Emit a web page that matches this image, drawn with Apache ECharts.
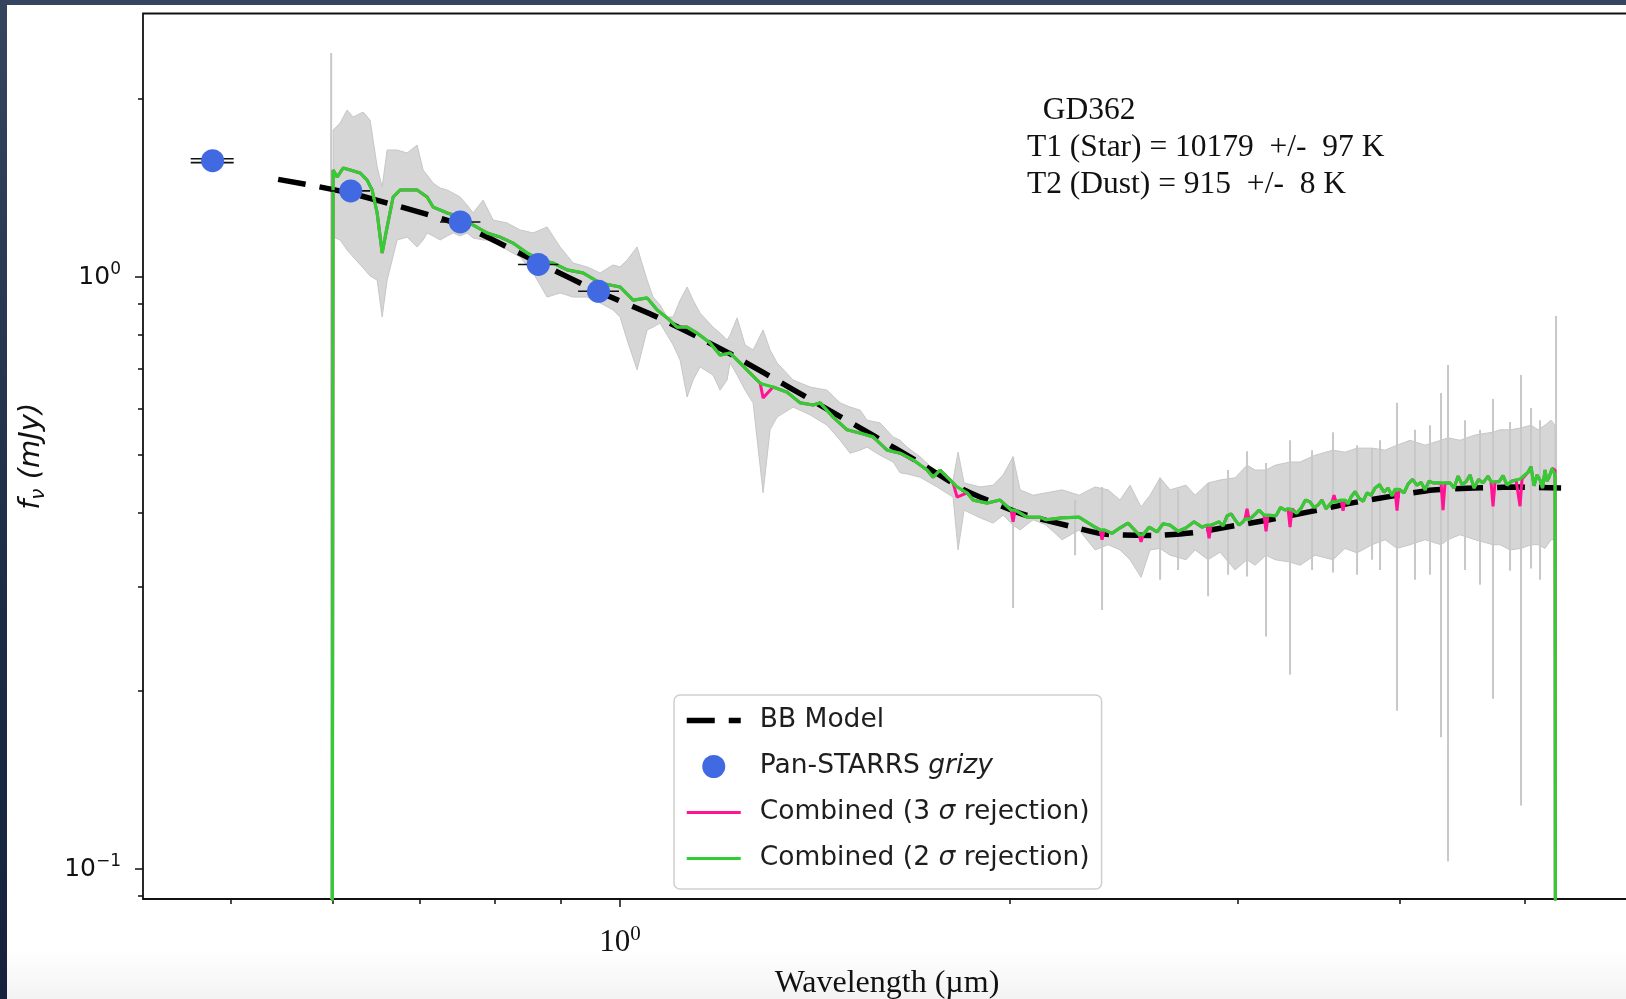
<!DOCTYPE html>
<html>
<head>
<meta charset="utf-8">
<title>GD362 spectral energy distribution</title>
<script src="https://cdn.jsdelivr.net/npm/echarts@6.0.0/dist/echarts.min.js"></script>
<style>
  html, body {
    margin: 0; padding: 0; width: 1626px; height: 999px; overflow: hidden;
    background: linear-gradient(to bottom, #35455f 0%, #1d2c46 60%, #14223b 100%);
  }
  #panel {
    position: absolute; left: 7px; top: 5px; right: 0; bottom: 0;
    background: linear-gradient(to bottom, #ffffff 0%, #ffffff 95%, #f3f3f3 100%);
  }
  #chart { position: absolute; left: 0; top: 0; width: 1700px; height: 999px; }
</style>
</head>
<body>
<div id="panel"></div>
<div id="chart"></div>
<script>
// ---- axis limits (µm, mJy) ----
const X_MIN = 0.4281, X_MAX = 6.035;
const Y_MIN = 0.089, Y_MAX = 2.787;

// ---- tick positions ----
const xMajorTicks = [1];
const xMinorTicks = [0.5, 0.6, 0.7, 0.8, 0.9, 2, 3, 4, 5, 6];
const yMajorTicks = [0.1, 1];
const yMinorTicks = [0.09, 0.2, 0.3, 0.4, 0.5, 0.6, 0.7, 0.8, 0.9, 2];

// ---- Pan-STARRS grizy photometry ----
const psWave   = [0.4845, 0.6194, 0.7526, 0.8646, 0.9623];
const psFlux   = [1.572, 1.398, 1.239, 1.050, 0.946];
const psWaveLo = [0.466, 0.598, 0.726, 0.834, 0.928];
const psWaveHi = [0.503, 0.641, 0.780, 0.896, 0.998];

// ---- two-component blackbody model (star + dust) ----
const bbWave = [0.5444,0.6188,0.7524,0.8643,0.9616,1.0604,1.1467,1.2161,1.2897,1.3697,
                1.4530,1.5683,1.7050,1.8441,2.0399,2.2301,2.3647,2.5796,2.7755,2.9430,
                3.1651,3.4111,3.6685,3.9456,4.2443,4.5652,4.9183,5.3296];
const bbFlux = [1.462,1.386,1.225,1.058,0.945,0.862,0.793,0.742,0.690,0.640,
                0.594,0.540,0.485,0.437,0.3985,0.379,0.368,0.366,0.370,0.3782,
                0.3887,0.4015,0.415,0.4265,0.4366,0.440,0.4417,0.440];

// ---- combined spectrum (shared wavelength grid) ----
const specWave = [
  0.5982,0.6003,0.6046,0.6111,0.6188,0.6298,0.6377,0.6434,0.6492,0.6550,
  0.6608,0.6679,0.6763,0.6970,0.7095,0.7171,0.7352,0.7524,0.7700,0.7894,
  0.8079,0.8268,0.8476,0.8674,0.8877,0.9101,0.9363,0.9651,1.0000,1.0234,
  1.0492,1.0680,1.0872,1.1067,1.1265,1.1467,1.1735,1.1946,1.2160,1.2378,
  1.2601,1.2827,1.2895,1.3126,1.3457,1.3772,1.4094,1.4271,1.4604,1.4972,
  1.5322,1.5681,1.6076,1.6452,1.6836,1.7261,1.7446,1.7664,1.8077,1.8206,
  1.8533,1.8732,1.9204,1.9653,2.0042,2.0113,2.0185,2.0620,2.1102,2.1328,
  2.1944,2.2617,2.3270,2.3477,2.3561,2.3645,2.3984,2.4328,2.4676,2.5164,
  2.5253,2.5343,2.5615,2.5982,2.6261,2.6590,2.6971,2.7357,2.7749,2.8147,
  2.8398,2.8499,2.8600,
  2.9010,2.922,2.9426,2.964,2.9847,3.006,3.0275,3.0382,3.0490,3.0598,
  3.0763,3.095,3.1148,3.1426,3.1538,3.1650,3.2104,3.236,3.2621,3.2796,
  3.2913,3.3030,3.330,3.3563,3.383,3.4104,3.435,3.4593,3.484,3.5088,
  3.5465,3.5591,3.5717,3.6037,3.6165,3.6294,3.649,3.6683,3.695,3.7211,
  3.748,3.7742,3.801,3.8285,3.859,3.8900,3.918,3.9459,3.9669,3.9810,
  3.9952,4.0023,4.031,4.0596,4.092,4.1251,4.155,4.1842,4.214,4.2442,
  4.3050,4.3203,4.3357,4.3744,4.406,4.4372,4.469,4.5007,4.533,4.5652,
  4.602,4.6388,4.6807,4.7052,4.7220,4.7388,4.7727,4.807,4.8410,4.880,
  4.9192,4.9367,4.9543,4.9719,5.0253,5.052,5.0792,5.106,5.1337,5.157,
  5.1796,5.198,5.2165,5.245,5.2725,5.2819];

// 2-sigma clipped combination
const flux2sig = [
  0.001,1.516,1.475,1.528,1.516,1.499,1.458,1.403,1.283,1.098,
  1.215,1.365,1.403,1.403,1.365,1.313,1.283,1.263,1.224,1.187,
  1.168,1.141,1.098,1.068,1.056,1.028,1.016,0.977,0.962,0.914,
  0.922,0.880,0.853,0.823,0.823,0.804,0.774,0.738,0.744,0.716,
  0.688,0.662,0.659,0.652,0.639,0.613,0.608,0.613,0.580,0.552,
  0.545,0.537,0.510,0.504,0.491,0.472,0.459,0.472,0.449,0.442,
  0.432,0.420,0.415,0.420,0.404,0.404,0.404,0.393,0.393,0.389,
  0.392,0.393,0.378,0.374,0.374,0.374,0.369,0.377,0.384,0.367,
  0.367,0.367,0.378,0.371,0.383,0.381,0.372,0.377,0.386,0.378,
  0.381,0.381,0.381,
  0.386,0.380,0.395,0.398,0.389,0.381,0.386,0.390,0.390,0.390,
  0.393,0.398,0.404,0.396,0.396,0.396,0.395,0.408,0.404,0.406,
  0.406,0.406,0.399,0.407,0.420,0.417,0.408,0.412,0.420,0.406,
  0.417,0.417,0.417,0.420,0.420,0.420,0.414,0.425,0.434,0.423,
  0.418,0.432,0.428,0.440,0.446,0.433,0.440,0.427,0.438,0.438,
  0.438,0.440,0.432,0.447,0.455,0.445,0.450,0.437,0.452,0.449,
  0.449,0.449,0.449,0.449,0.440,0.461,0.446,0.451,0.463,0.440,
  0.455,0.449,0.461,0.451,0.451,0.451,0.451,0.462,0.445,0.452,
  0.454,0.456,0.456,0.456,0.468,0.478,0.444,0.463,0.454,0.440,
  0.472,0.452,0.459,0.475,0.463,0.001];

// 3-sigma clipped combination
const flux3sig = [
  0.001,1.516,1.475,1.528,1.516,1.499,1.458,1.403,1.283,1.098,
  1.215,1.365,1.403,1.403,1.365,1.313,1.283,1.263,1.224,1.187,
  1.168,1.141,1.098,1.068,1.056,1.028,1.016,0.977,0.962,0.914,
  0.922,0.880,0.853,0.823,0.823,0.804,0.774,0.738,0.744,0.716,
  0.688,0.662,0.625,0.652,0.639,0.613,0.608,0.613,0.580,0.552,
  0.545,0.537,0.510,0.504,0.491,0.472,0.459,0.472,0.449,0.425,
  0.432,0.420,0.415,0.420,0.404,0.386,0.404,0.393,0.393,0.389,
  0.392,0.393,0.378,0.374,0.360,0.374,0.369,0.377,0.384,0.367,
  0.357,0.367,0.378,0.371,0.383,0.381,0.372,0.377,0.386,0.378,
  0.381,0.362,0.381,
  0.386,0.380,0.395,0.398,0.389,0.381,0.386,0.390,0.406,0.390,
  0.393,0.398,0.404,0.396,0.372,0.396,0.395,0.408,0.404,0.406,
  0.378,0.406,0.399,0.407,0.420,0.417,0.408,0.412,0.420,0.406,
  0.417,0.428,0.417,0.420,0.403,0.420,0.414,0.425,0.434,0.423,
  0.418,0.432,0.428,0.440,0.446,0.433,0.440,0.427,0.438,0.403,
  0.438,0.440,0.432,0.447,0.455,0.445,0.450,0.437,0.452,0.449,
  0.449,0.404,0.449,0.449,0.440,0.461,0.446,0.451,0.463,0.440,
  0.455,0.449,0.461,0.451,0.410,0.451,0.451,0.462,0.445,0.452,
  0.454,0.456,0.410,0.456,0.468,0.478,0.444,0.463,0.454,0.440,
  0.472,0.452,0.459,0.475,0.472,0.001];

// ---- 1-sigma uncertainty envelope ----
const bandWave = [
  0.6003,0.6078,0.6154,0.6221,0.6332,0.6411,0.6492,0.6550,0.6608,0.6727,
  0.6847,0.6970,0.7045,0.7095,0.7171,0.7261,0.7352,0.7431,0.7524,0.7618,
  0.7700,0.7838,0.7979,0.8180,0.8371,0.8567,0.8783,0.8988,0.9198,0.9430,
  0.9651,0.9876,1.0000,1.0125,1.0307,1.0492,1.0604,1.0737,1.0872,1.0988,
  1.1126,1.1265,1.1386,1.1529,1.1798,1.1946,1.2095,1.2160,1.2313,1.2489,
  1.2668,1.2895,1.3056,1.3220,1.3602,1.4019,1.4449,1.4787,1.5052,1.5322,
  1.5514,1.5877,1.6249,1.6452,1.6658,1.7048,1.7570,1.7981,1.8077,1.8239,
  1.8435,1.8966,1.9412,1.9759,2.0113,2.0366,2.0842,2.1328,2.1944,2.2617,
  2.3270,2.3814,2.4328,2.4764,2.5253,2.5660,2.6122,2.6590,2.7357,2.7798,
  2.8448,2.9061,2.9847,3.0490,3.0928,3.1538,3.2047,3.2913,3.3503,3.4409,
  3.5528,3.6294,3.7078,3.8081,3.8970,3.9810,4.0741,4.1842,4.3050,4.3589,
  4.4530,4.5733,4.7220,4.7812,4.8670,4.9631,5.0522,5.1155,5.1796,5.2351,
  5.2725];
const bandHi = [
  1.771,1.820,1.915,1.863,1.900,1.841,1.534,1.419,1.639,1.639,
  1.620,1.671,1.516,1.487,1.441,1.414,1.403,1.386,1.365,1.323,
  1.283,1.349,1.248,1.234,1.201,1.187,1.215,1.124,1.056,1.040,
  1.016,1.048,1.040,1.068,1.124,0.988,0.925,0.897,0.856,0.856,
  0.914,0.962,0.914,0.869,0.823,0.804,0.783,0.798,0.853,0.768,
  0.753,0.814,0.753,0.716,0.670,0.652,0.644,0.613,0.603,0.596,
  0.573,0.567,0.537,0.530,0.516,0.497,0.467,0.449,0.454,0.506,
  0.449,0.442,0.445,0.463,0.497,0.437,0.428,0.432,0.437,0.428,
  0.442,0.437,0.420,0.445,0.409,0.428,0.458,0.437,0.445,0.428,
  0.449,0.454,0.458,0.481,0.472,0.472,0.481,0.487,0.487,0.500,
  0.510,0.506,0.514,0.514,0.510,0.520,0.530,0.520,0.530,0.535,
  0.530,0.541,0.547,0.552,0.552,0.556,0.562,0.552,0.562,0.573,
  0.562];
const bandLo = [
  1.168,1.155,1.111,1.081,1.036,1.004,0.988,0.856,0.988,1.155,
  1.168,1.124,1.155,1.187,1.173,1.155,1.173,1.187,1.173,1.187,
  1.164,1.155,1.155,1.111,1.081,1.016,0.925,0.940,0.925,0.925,
  0.904,0.880,0.856,0.783,0.697,0.814,0.823,0.836,0.798,0.768,
  0.724,0.627,0.670,0.705,0.683,0.644,0.670,0.716,0.683,0.644,
  0.613,0.432,0.552,0.580,0.603,0.585,0.562,0.530,0.504,0.510,
  0.516,0.500,0.487,0.467,0.465,0.459,0.442,0.428,0.425,0.346,
  0.404,0.392,0.384,0.396,0.381,0.374,0.389,0.381,0.360,0.374,
  0.346,0.353,0.346,0.333,0.311,0.346,0.348,0.339,0.333,0.346,
  0.333,0.343,0.320,0.333,0.326,0.339,0.333,0.330,0.326,0.339,
  0.333,0.348,0.342,0.353,0.360,0.348,0.353,0.360,0.353,0.360,
  0.367,0.360,0.353,0.353,0.346,0.348,0.353,0.353,0.348,0.360,
  0.360];

// single noisy pixels with very large uncertainty
const spikeWave = [0.5982,2.0113,2.2457,2.3561,2.6122,2.6971,2.8448,2.9478,3.0490,3.1538,
                   3.2913,3.4226,3.5528,3.7078,3.8081,3.8625,3.9810,4.1105,4.2216,4.3050,
                   4.3589,4.4927,4.6141,4.7220,4.8670,4.9631,5.0522,5.1337,5.2819];
const spikeLo = [0.001,0.276,0.339,0.274,0.308,0.320,0.289,0.314,0.312,0.247,
                 0.213,0.320,0.317,0.314,0.333,0.320,0.185,0.308,0.314,0.167,
                 0.103,0.320,0.302,0.194,0.319,0.128,0.322,0.308,0.001];
const spikeHi = [2.390,0.497,0.420,0.442,0.458,0.437,0.449,0.472,0.508,0.485,
                 0.530,0.510,0.547,0.520,0.514,0.530,0.613,0.552,0.562,0.637,
                 0.710,0.573,0.552,0.622,0.569,0.683,0.601,0.573,0.859];

// ---- labels ----
const seriesNames = ['BB Model', 'Pan-STARRS grizy', 'Combined (3 σ rejection)', 'Combined (2 σ rejection)'];
const fitNotes = ['  GD362', 'T1 (Star) = 10179  +/-  97 K', 'T2 (Dust) = 915  +/-  8 K'];
const xTitle = 'Wavelength (µm)';

// ---------------------------------------------------------------------------
const chart = echarts.init(document.getElementById('chart'), null, { renderer: 'canvas' });

function powLabel(v) {
  const e = Math.round(Math.log10(v));
  return '{b|10}{s|' + (e < 0 ? '\u2212' + (-e) : String(e)) + '}';
}

function renderBand(params, api) {
  if (params.dataIndex !== 0) return null;
  const upper = bandWave.map((w, i) => api.coord([w, bandHi[i]]));
  const lower = bandWave.map((w, i) => api.coord([w, bandLo[i]])).reverse();
  return {
    type: 'polygon',
    shape: { points: upper.concat(lower) },
    style: { fill: '#d6d6d6', stroke: '#c6c6c6', lineWidth: 1 }
  };
}

function renderSpike(params, api) {
  const p0 = api.coord([api.value(0), api.value(1)]);
  const p1 = api.coord([api.value(0), api.value(2)]);
  return {
    type: 'line',
    shape: { x1: p0[0], y1: p0[1], x2: p1[0], y2: p1[1] },
    style: { stroke: '#c8c8c8', lineWidth: 2 }
  };
}

function renderErrBar(params, api) {
  const y = api.value(2);
  const p0 = api.coord([api.value(0), y]);
  const p1 = api.coord([api.value(1), y]);
  const offsets = params.dataIndex === 0 ? [-1.9, 1.9] : [0];
  return {
    type: 'group',
    children: offsets.map(o => ({
      type: 'line',
      shape: { x1: p0[0], y1: p0[1] + o, x2: p1[0], y2: p1[1] + o },
      style: { stroke: '#111', lineWidth: 1.6 }
    }))
  };
}

const tickLine = { color: '#111', width: 1.5 };
const hiddenMarker = { color: 'rgba(0,0,0,0)', borderColor: 'rgba(0,0,0,0)', borderWidth: 0 };
const legendText = {
  'BB Model': '{sp| }{t|BB Model}',
  'Pan-STARRS grizy': '{sp| }{t|Pan-STARRS }{it|grizy}',
  'Combined (3 σ rejection)': '{sp| }{t|Combined (3 }{it|σ}{t| rejection)}',
  'Combined (2 σ rejection)': '{sp| }{t|Combined (2 }{it|σ}{t| rejection)}'
};

const option = {
  animation: false,
  grid: {
    left: 143, top: 13.5, right: 69, bottom: 100,
    outerBoundsMode: 'none', containLabel: false,
    show: true, borderColor: '#111', borderWidth: 1.8, backgroundColor: 'transparent'
  },
  xAxis: [
    {
      type: 'log', logBase: 10, min: X_MIN, max: X_MAX, position: 'bottom',
      axisLine: { show: false }, splitLine: { show: false },
      axisTick: { show: true, customValues: xMajorTicks, length: 8, lineStyle: tickLine },
      axisLabel: {
        show: true, customValues: xMajorTicks, margin: 25, formatter: powLabel,
        rich: {
          b: { fontFamily: 'Liberation Serif', fontSize: 31, color: '#111', lineHeight: 38 },
          s: { fontFamily: 'Liberation Serif', fontSize: 21, color: '#111', lineHeight: 22, verticalAlign: 'top' }
        }
      },
      name: xTitle, nameLocation: 'middle', nameGap: 69,
      nameTextStyle: { fontFamily: 'Liberation Serif', fontSize: 32, color: '#111' }
    },
    {
      type: 'log', logBase: 10, min: X_MIN, max: X_MAX, position: 'bottom',
      axisLine: { show: false }, splitLine: { show: false },
      axisTick: { show: true, customValues: xMinorTicks, length: 5, lineStyle: tickLine },
      axisLabel: { show: false }
    }
  ],
  yAxis: [
    {
      type: 'log', logBase: 10, min: Y_MIN, max: Y_MAX, position: 'left',
      axisLine: { show: false }, splitLine: { show: false },
      axisTick: { show: true, customValues: yMajorTicks, length: 8, lineStyle: tickLine },
      axisLabel: {
        show: true, customValues: yMajorTicks, margin: 22, formatter: powLabel,
        rich: {
          b: { fontFamily: 'DejaVu Sans', fontSize: 25, color: '#111', lineHeight: 32 },
          s: { fontFamily: 'DejaVu Sans', fontSize: 17, color: '#111', lineHeight: 19, verticalAlign: 'top' }
        }
      },
      name: '{i|f}{sub|ν}{i| (mJy)}', nameLocation: 'middle', nameGap: 94, nameRotate: 90,
      nameTextStyle: {
        rich: {
          i: { fontFamily: 'DejaVu Sans', fontStyle: 'italic', fontSize: 29, color: '#111', lineHeight: 35 },
          sub: { fontFamily: 'DejaVu Sans', fontStyle: 'italic', fontSize: 20, color: '#111', lineHeight: 24, verticalAlign: 'bottom' }
        }
      }
    },
    {
      type: 'log', logBase: 10, min: Y_MIN, max: Y_MAX, position: 'left',
      axisLine: { show: false }, splitLine: { show: false },
      axisTick: { show: true, customValues: yMinorTicks, length: 5, lineStyle: tickLine },
      axisLabel: { show: false }
    }
  ],
  legend: {
    data: [
      { name: seriesNames[0], itemStyle: hiddenMarker },
      { name: seriesNames[1] },
      { name: seriesNames[2], itemStyle: hiddenMarker },
      { name: seriesNames[3], itemStyle: hiddenMarker }
    ],
    orient: 'vertical', left: 674, top: 695,
    padding: [12, 12, 17, 10], itemGap: 19, itemWidth: 54, itemHeight: 23,
    backgroundColor: 'rgba(255,255,255,0.85)', borderColor: '#cfcfcf', borderWidth: 1.5, borderRadius: 6,
    selectedMode: false,
    lineStyle: { width: 'inherit' },
    formatter: name => legendText[name],
    textStyle: {
      rich: {
        sp: { width: 14 },
        t: { fontFamily: 'DejaVu Sans', fontSize: 26.5, color: '#1e1e1e' },
        it: { fontFamily: 'DejaVu Sans', fontStyle: 'italic', fontSize: 26.5, color: '#1e1e1e' }
      }
    }
  },
  graphic: {
    elements: [{
      type: 'text', left: 1027, top: 92, silent: true,
      style: {
        text: fitNotes.join('\n'),
        fontFamily: 'Liberation Serif', fontSize: 31.5, lineHeight: 37, fill: '#111'
      }
    }]
  },
  series: [
    {
      name: 'envelope', type: 'custom', renderItem: renderBand, clip: true, silent: true, z: 1,
      data: bandWave.map((w, i) => [w, bandLo[i], bandHi[i]]), encode: { x: 0, y: [1, 2] }
    },
    {
      name: 'spikes', type: 'custom', renderItem: renderSpike, clip: true, silent: true, z: 1,
      data: spikeWave.map((w, i) => [w, spikeLo[i], spikeHi[i]]), encode: { x: 0, y: [1, 2] }
    },
    {
      name: seriesNames[0], type: 'line', z: 2, symbol: 'none', smooth: 0.2,
      data: bbWave.map((w, i) => [w, bbFlux[i]]),
      lineStyle: { color: '#000', width: 5.5, type: [28, 14], cap: 'butt' },
      itemStyle: hiddenMarker
    },
    {
      name: seriesNames[2], type: 'line', z: 3, symbol: 'none',
      data: specWave.map((w, i) => [w, flux3sig[i]]),
      lineStyle: { color: '#ff1493', width: 3 }, itemStyle: hiddenMarker
    },
    {
      name: seriesNames[3], type: 'line', z: 4, symbol: 'none',
      data: specWave.map((w, i) => [w, flux2sig[i]]),
      lineStyle: { color: '#32cd32', width: 3.2 }, itemStyle: hiddenMarker
    },
    {
      name: 'xerr', type: 'custom', renderItem: renderErrBar, clip: true, silent: true, z: 5,
      data: psWave.map((w, i) => [psWaveLo[i], psWaveHi[i], psFlux[i]]), encode: { x: [0, 1], y: 2 }
    },
    {
      name: seriesNames[1], type: 'scatter', z: 6, symbol: 'circle', symbolSize: 23,
      data: psWave.map((w, i) => [w, psFlux[i]]),
      itemStyle: { color: '#4169e1', opacity: 1 }
    }
  ]
};

chart.setOption(option);
</script>
</body>
</html>
